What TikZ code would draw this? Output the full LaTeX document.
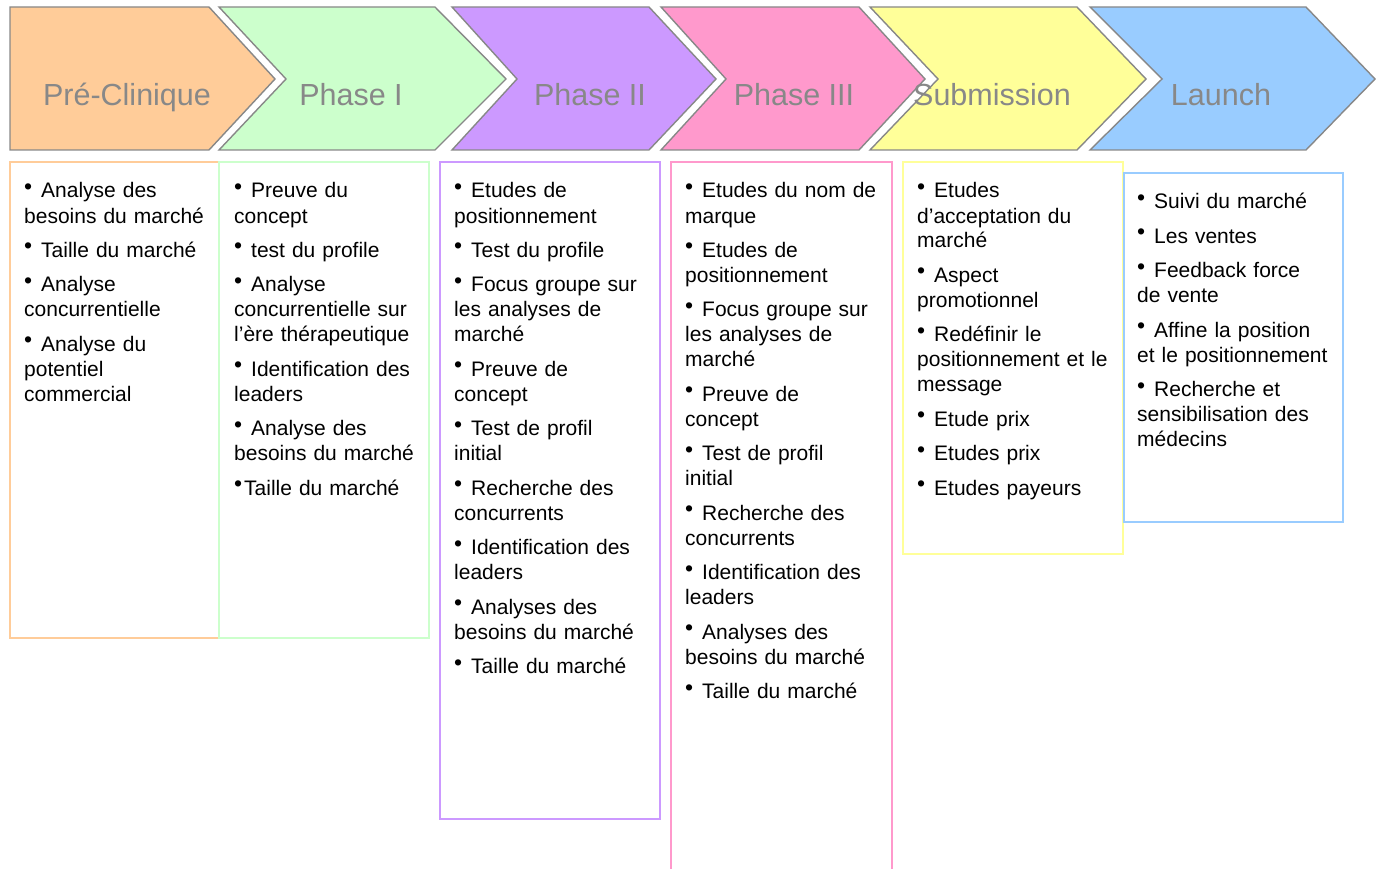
\documentclass[tikz,border=0pt]{standalone}
\usepackage{fontspec}
\setmainfont{Liberation Sans}
\definecolor{corange}{HTML}{FFCC99}
\definecolor{cgreen}{HTML}{CCFFCC}
\definecolor{cpurple}{HTML}{CC99FF}
\definecolor{cpink}{HTML}{FF99CC}
\definecolor{cyellow}{HTML}{FFFF99}
\definecolor{cblue}{HTML}{99CCFF}
\definecolor{cgray}{HTML}{888888}
\newcommand\bul{\makebox[10pt][l]{\raisebox{3.5pt}{\fontsize{23}{25}\selectfont •}}}
\newcommand\itm{\bul\hspace{7pt}}
\newcommand\nx{\\[9.5pt]}
\tikzset{
  chev/.style={draw=cgray, line width=1.4pt, line join=miter},
  colbox/.style={line width=2pt},
  hdr/.style={anchor=base, inner sep=0pt, text=cgray, font=\fontsize{30.5}{36}\selectfont},
  coltext/.style={anchor=base west, inner sep=0pt, text width=205pt, align=left, font=\fontsize{21}{25}\selectfont}
}
\begin{document}
\begin{tikzpicture}[x=1pt,y=-1pt]
\useasboundingbox (0,0) rectangle (1376,869);
\clip (0,0) rectangle (1376,869);
% boxes
\draw[colbox, draw=corange] (10,162) rectangle (219,638);
\draw[colbox, draw=cgreen] (219,162) rectangle (429,638);
\draw[colbox, draw=cpurple] (440,162) rectangle (660,819);
\draw[colbox, draw=cpink] (671,162) rectangle (892,880);
\draw[colbox, draw=cyellow] (903,162) rectangle (1123,554);
\draw[colbox, draw=cblue] (1124,173) rectangle (1343,522);
% chevrons
\draw[chev, fill=corange] (10,7) -- (209,7) -- (275,79) -- (209,150) -- (10,150) -- cycle;
\draw[chev, fill=cgreen] (219,7) -- (435,7) -- (506,79) -- (435,150) -- (219,150) -- (286,79) -- cycle;
\draw[chev, fill=cpurple] (452,7) -- (649,7) -- (716,79) -- (649,150) -- (452,150) -- (517,79) -- cycle;
\draw[chev, fill=cpink] (661,7) -- (859,7) -- (925,79) -- (859,150) -- (661,150) -- (726,79) -- cycle;
\draw[chev, fill=cyellow] (870,7) -- (1077,7) -- (1146,79) -- (1077,150) -- (870,150) -- (938,79) -- cycle;
\draw[chev, fill=cblue] (1090,7) -- (1306,7) -- (1375,79) -- (1306,150) -- (1090,150) -- (1162,79) -- cycle;
% headers
\node[hdr] (h1) at (127,106) {Pré-Clinique};
\node[hdr] (h2) at (351,106) {Phase I};
\node[hdr] (h3) at (590,106) {Phase II};
\node[hdr] (h4) at (794,106) {Phase III};
\node[hdr] (h5) at (992,106) {Submission};
\node[hdr] (h6) at (1221,106) {Launch};
% column texts
\node[coltext] (t1) at (24,198) {\itm Analyse des\\besoins du marché\nx
\itm Taille du marché\nx
\itm Analyse\\concurrentielle\nx
\itm Analyse du\\potentiel\\commercial};
\node[coltext] (t2) at (234,198) {\itm Preuve du\\concept\nx
\itm test du profile\nx
\itm Analyse\\concurrentielle sur\\l’ère thérapeutique\nx
\itm Identification des\\leaders\nx
\itm Analyse des\\besoins du marché\nx
\bul Taille du marché};
\node[coltext] (t3) at (454,198) {\itm Etudes de\\positionnement\nx
\itm Test du profile\nx
\itm Focus groupe sur\\les analyses de\\marché\nx
\itm Preuve de\\concept\nx
\itm Test de profil\\initial\nx
\itm Recherche des\\concurrents\nx
\itm Identification des\\leaders\nx
\itm Analyses des\\besoins du marché\nx
\itm Taille du marché};
\node[coltext] (t4) at (685,198) {\itm Etudes du nom de\\marque\nx
\itm Etudes de\\positionnement\nx
\itm Focus groupe sur\\les analyses de\\marché\nx
\itm Preuve de\\concept\nx
\itm Test de profil\\initial\nx
\itm Recherche des\\concurrents\nx
\itm Identification des\\leaders\nx
\itm Analyses des\\besoins du marché\nx
\itm Taille du marché};
\node[coltext] (t5) at (917,198) {\itm Etudes\\d’acceptation du\\marché\nx
\itm Aspect\\promotionnel\nx
\itm Redéfinir le\\positionnement et le\\message\nx
\itm Etude prix\nx
\itm Etudes prix\nx
\itm Etudes payeurs};
\node[coltext] (t6) at (1137,209) {\itm Suivi du marché\nx
\itm Les ventes\nx
\itm Feedback force\\de vente\nx
\itm Affine la position\\et le positionnement\nx
\itm Recherche et\\sensibilisation des\\médecins};
\end{tikzpicture}
\end{document}
